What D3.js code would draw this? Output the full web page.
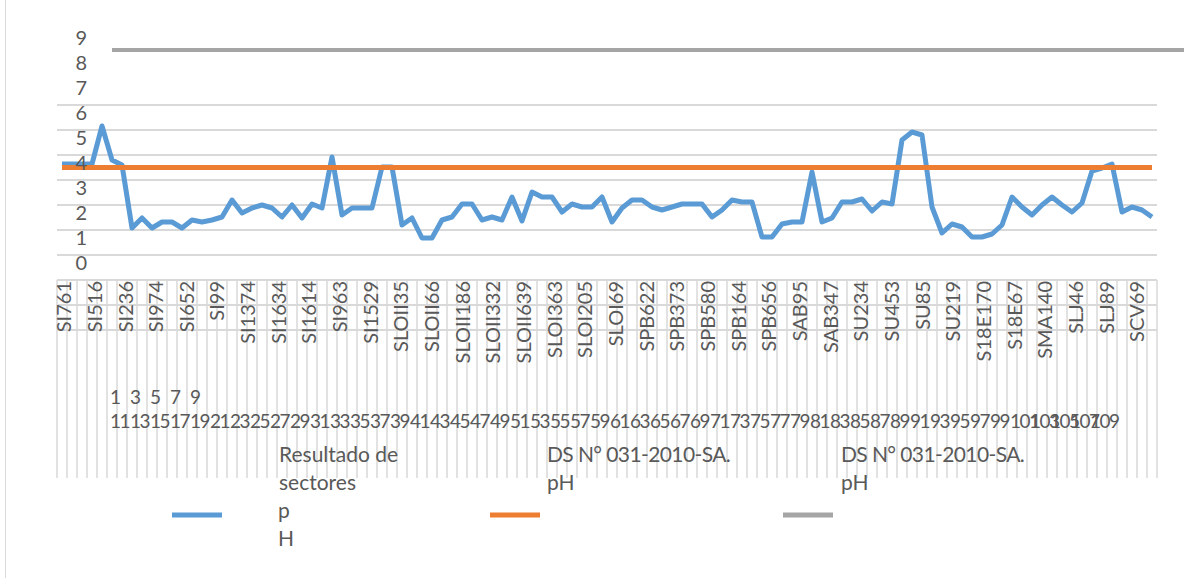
<!DOCTYPE html>
<html>
<head>
<meta charset="utf-8">
<script src="https://d3js.org/d3.v7.min.js"></script>
<style>
  body { margin: 0; background: #fff; }
  svg text { font-family: Lato, "Open Sans", sans-serif; fill: #595959; }
</style>
</head>
<body>
<div id="chart"></div>
<script>
// pH per sector (blue series)
var phValues = [
  6.64, 6.64, 6.64, 6.64, 8.16, 6.80, 6.60, 4.08, 4.48, 4.08,
  4.32, 4.32, 4.08, 4.40, 4.32, 4.40, 4.52, 5.20, 4.68, 4.88,
  5.00, 4.88, 4.52, 5.00, 4.48, 5.04, 4.88, 6.92, 4.60, 4.88,
  4.88, 4.88, 6.52, 6.52, 4.20, 4.48, 3.68, 3.68, 4.40, 4.52,
  5.04, 5.04, 4.40, 4.52, 4.40, 5.32, 4.36, 5.52, 5.32, 5.32,
  4.72, 5.04, 4.92, 4.92, 5.32, 4.32, 4.88, 5.20, 5.20, 4.92,
  4.80, 4.92, 5.04, 5.04, 5.04, 4.52, 4.80, 5.20, 5.12, 5.12,
  3.72, 3.72, 4.24, 4.32, 4.32, 6.32, 4.32, 4.48, 5.12, 5.12,
  5.24, 4.76, 5.12, 5.04, 7.60, 7.92, 7.80, 4.92, 3.88, 4.24,
  4.12, 3.72, 3.72, 3.84, 4.20, 5.32, 4.92, 4.60, 5.00, 5.32,
  5.00, 4.72, 5.08, 6.36, 6.48, 6.64, 4.72, 4.92, 4.80, 4.52
];

// limit series (orange and grey)
var limitMin = 6.5;
var limitMax = 11.2;
var limitMaxStart = 5;
var limitMaxEnd = 113;

// sector names shown on the axis (every third category)
var sectorLabels = [
  "SI761", "SI516", "SI236", "SI974", "SI652", "SI99", "SI1374", "SI1634",
  "SI1614", "SI963", "SI1529", "SLOII35", "SLOII66", "SLOII186", "SLOII332",
  "SLOII639", "SLOI363", "SLOI205", "SLOI69", "SPB622", "SPB373", "SPB580",
  "SPB164", "SPB656", "SAB95", "SAB347", "SU234", "SU453", "SU85", "SU219",
  "S18E170", "S18E67", "SMA140", "SLJ46", "SLJ89", "SCV69"
];

// numeric category rows
var topNumbers = ["1", "3", "5", "7", "9"];
var bottomNumbers = [
  "11", "13", "15", "17", "19", "21", "23", "25", "27", "29",
  "31", "33", "35", "37", "39", "41", "43", "45", "47", "49",
  "51", "53", "55", "57", "59", "61", "63", "65", "67", "69",
  "71", "73", "75", "77", "79", "81", "83", "85", "87", "89",
  "91", "93", "95", "97", "99", "101", "103", "105", "107", "109"
];

var yTicks = [0, 1, 2, 3, 4, 5, 6, 7, 8, 9];

var legendItems = [
  { lines: ["Resultado de", "sectores", "p", "H"], color: "#5b9bd5" },
  { lines: ["DS N° 031-2010-SA.", "pH"], color: "#ed7d31" },
  { lines: ["DS N° 031-2010-SA.", "pH"], color: "#a5a5a5" }
];

var width = 1184, height = 578;

var svg = d3.select("#chart")
  .append("svg")
  .attr("width", width)
  .attr("height", height);

// chart border (only the left edge shows in the picture)
svg.append("line")
  .attr("x1", 5.5).attr("x2", 5.5)
  .attr("y1", 0).attr("y2", height)
  .attr("stroke", "#d9d9d9")
  .attr("stroke-width", 1);

var n = phValues.length;

var x = d3.scaleBand()
  .domain(d3.range(n))
  .range([57, 1157]);

var xc = d3.scaleLinear()
  .domain([0, n - 1])
  .range([x(0) + x.bandwidth() / 2, x(n - 1) + x.bandwidth() / 2]);

var y = d3.scaleLinear()
  .domain([0, 9])
  .range([330, 105]);

// horizontal gridlines
svg.append("g")
  .selectAll("line")
  .data(yTicks)
  .enter().append("line")
  .attr("x1", 57).attr("x2", 1157)
  .attr("y1", function(d) { return y(d); })
  .attr("y2", function(d) { return y(d); })
  .attr("stroke", "#d9d9d9")
  .attr("stroke-width", 2);

// category divider lines below the plot
svg.append("g")
  .selectAll("line")
  .data(d3.range(n + 1))
  .enter().append("line")
  .attr("x1", function(d) { return 57 + d * x.bandwidth(); })
  .attr("x2", function(d) { return 57 + d * x.bandwidth(); })
  .attr("y1", y(2)).attr("y2", 478)
  .attr("stroke", "#d9d9d9")
  .attr("stroke-width", 1.5);

// rotated sector labels
var xl = d3.scalePoint()
  .domain(sectorLabels)
  .range([64, 1137]);

svg.append("g")
  .selectAll("text")
  .data(sectorLabels)
  .enter().append("text")
  .attr("transform", function(d) { return "translate(" + xl(d) + ",281) rotate(-90)"; })
  .attr("text-anchor", "end")
  .attr("dy", "0.36em")
  .style("font-size", "20px")
  .text(function(d) { return d; });

// numeric rows
svg.append("g")
  .selectAll("text")
  .data(topNumbers)
  .enter().append("text")
  .attr("x", function(d, i) { return x(5 + 2 * i) + 3; })
  .attr("y", 404)
  .style("font-size", "19px")
  .text(function(d) { return d; });

svg.append("g")
  .selectAll("text")
  .data(bottomNumbers)
  .enter().append("text")
  .attr("x", function(d, i) { return x(5 + 2 * i) + 3; })
  .attr("y", 428)
  .style("font-size", "19px")
  .style("letter-spacing", "-1.5px")
  .text(function(d) { return d; });

// series
var line = d3.line()
  .x(function(d, i) { return xc(i); })
  .y(function(d) { return y(d); });

svg.append("path")
  .datum(phValues)
  .attr("d", line)
  .attr("fill", "none")
  .attr("stroke", "#5b9bd5")
  .attr("stroke-width", 5)
  .attr("stroke-linejoin", "round");

svg.append("line")
  .attr("x1", xc(0)).attr("x2", xc(n - 1))
  .attr("y1", y(limitMin)).attr("y2", y(limitMin))
  .attr("stroke", "#ed7d31")
  .attr("stroke-width", 5);

svg.append("line")
  .attr("x1", xc(limitMaxStart)).attr("x2", xc(limitMaxEnd))
  .attr("y1", y(limitMax)).attr("y2", y(limitMax))
  .attr("stroke", "#a5a5a5")
  .attr("stroke-width", 4);

// y labels (drawn above their gridlines, as in the original)
svg.append("g")
  .selectAll("text")
  .data(yTicks)
  .enter().append("text")
  .attr("x", 87)
  .attr("y", function(d) { return y(d) - 67; })
  .attr("dy", "0.36em")
  .attr("text-anchor", "end")
  .style("font-size", "20px")
  .text(function(d) { return d; });

// legend
var legendX = [172, 490, 783];
var legendTextX = [279, 547, 841];

legendItems.forEach(function(item, k) {
  svg.append("line")
    .attr("x1", legendX[k]).attr("x2", legendX[k] + 50)
    .attr("y1", 515).attr("y2", 515)
    .attr("stroke", item.color)
    .attr("stroke-width", 5);
  item.lines.forEach(function(t, j) {
    svg.append("text")
      .attr("x", legendTextX[k] - (j >= 2 ? 1 : 0))
      .attr("y", 462 + j * 28)
      .style("font-size", "21px")
      .style("letter-spacing", k > 0 && j === 0 ? "-0.6px" : null)
      .text(t);
  });
});
</script>
</body>
</html>
